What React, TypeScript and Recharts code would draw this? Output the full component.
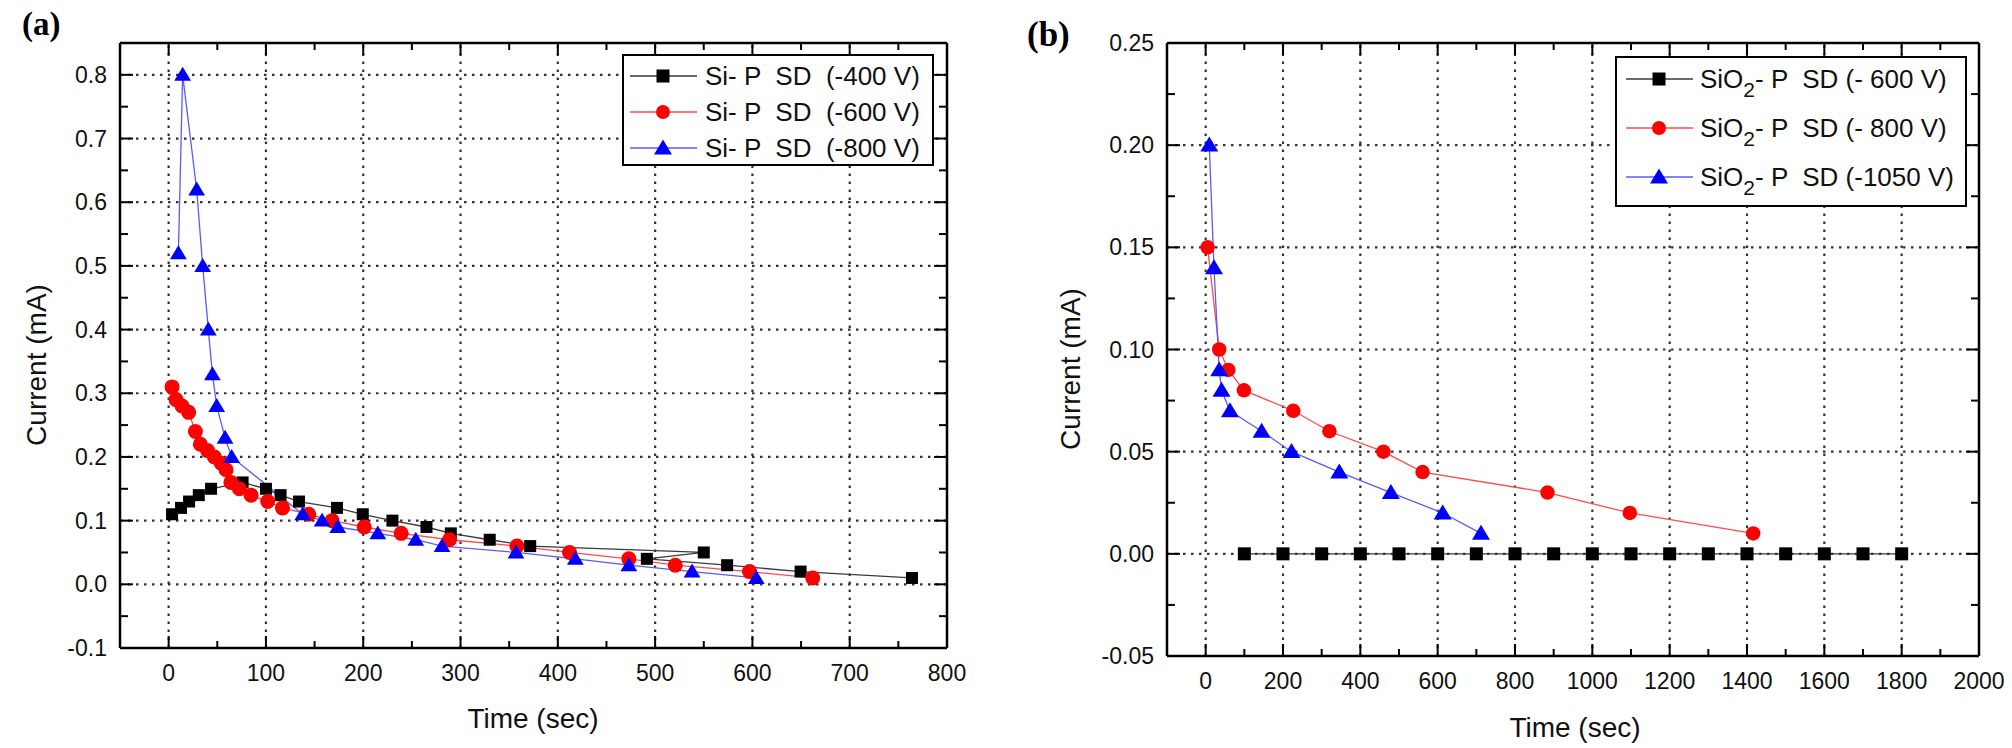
import React from 'react';
import { LineChart, Line, XAxis, YAxis, ReferenceLine } from 'recharts';

// ---------- Panel (a) data ----------
const aBlackT = [3.5, 12.7, 21, 31, 43.6, 76, 100, 115, 134, 173, 199.5, 230, 265, 290, 330, 371.6, 550, 491.5, 574, 649.5, 764];
const aBlackI = [0.11, 0.12, 0.13, 0.14, 0.15, 0.16, 0.15, 0.14, 0.13, 0.12, 0.11, 0.10, 0.09, 0.08, 0.07, 0.06, 0.05, 0.04, 0.03, 0.02, 0.01];
const aRedT = [3.5, 7.6, 13.8, 20.6, 27.5, 32.6, 40, 47, 54, 59, 64, 72.7, 84.7, 101.8, 117, 144, 168, 201, 239, 288.6, 358, 412, 473, 520.7, 597, 662];
const aRedI = [0.31, 0.29, 0.28, 0.27, 0.24, 0.22, 0.21, 0.20, 0.19, 0.18, 0.16, 0.15, 0.14, 0.13, 0.12, 0.11, 0.10, 0.09, 0.08, 0.07, 0.06, 0.05, 0.04, 0.03, 0.02, 0.01];
const aBlueT = [10, 14.4, 28.8, 35, 40.8, 45, 49.4, 58, 64.8, 137.8, 157.7, 173.8, 215, 254, 281, 357, 418, 473, 538, 604];
const aBlueI = [0.52, 0.80, 0.62, 0.50, 0.40, 0.33, 0.28, 0.23, 0.20, 0.11, 0.10, 0.09, 0.08, 0.07, 0.06, 0.05, 0.04, 0.03, 0.02, 0.01];
const aNames = ['Si- P  SD  (-400 V)', 'Si- P  SD  (-600 V)', 'Si- P  SD  (-800 V)'];
const aXMajor = [0, 100, 200, 300, 400, 500, 600, 700, 800];
const aXMinor = [50, 150, 250, 350, 450, 550, 650, 750];
const aYMajor = [-0.1, 0, 0.1, 0.2, 0.3, 0.4, 0.5, 0.6, 0.7, 0.8];
const aYMinor = [-0.05, 0.05, 0.15, 0.25, 0.35, 0.45, 0.55, 0.65, 0.75];
const aXGrid = [0, 100, 200, 300, 400, 500, 600, 700];
const aYGrid = [0, 0.1, 0.2, 0.3, 0.4, 0.5, 0.6, 0.7, 0.8];
const aXDomain = [-50, 800];
const aYDomain = [-0.1, 0.85];

// ---------- Panel (b) data ----------
const bBlackT = [100, 200, 300, 400, 500, 600, 700, 800, 900, 1000, 1100, 1200, 1300, 1400, 1500, 1600, 1700, 1800];
const bBlackI = [0, 0, 0, 0, 0, 0, 0, 0, 0, 0, 0, 0, 0, 0, 0, 0, 0, 0];
const bRedT = [5, 35, 58.5, 99, 226.6, 320, 459.6, 561, 884, 1097, 1416];
const bRedI = [0.15, 0.10, 0.09, 0.08, 0.07, 0.06, 0.05, 0.04, 0.03, 0.02, 0.01];
const bBlueT = [9.4, 21.5, 35, 41, 62.8, 144.7, 222, 345.6, 479, 613, 712];
const bBlueI = [0.20, 0.14, 0.09, 0.08, 0.07, 0.06, 0.05, 0.04, 0.03, 0.02, 0.01];
const bNames = [['SiO', '2', '- P  SD (- 600 V)'], ['SiO', '2', '- P  SD (- 800 V)'], ['SiO', '2', '- P  SD (-1050 V)']];
const bXMajor = [0, 200, 400, 600, 800, 1000, 1200, 1400, 1600, 1800, 2000];
const bXMinor = [100, 300, 500, 700, 900, 1100, 1300, 1500, 1700, 1900];
const bYMajor = [-0.05, 0, 0.05, 0.1, 0.15, 0.2, 0.25];
const bYMinor = [-0.025, 0.025, 0.075, 0.125, 0.175, 0.225];
const bXGrid = [0, 200, 400, 600, 800, 1000, 1200, 1400, 1600, 1800];
const bYGrid = [0, 0.05, 0.1, 0.15, 0.2];
const bXDomain = [-100, 2000];
const bYDomain = [-0.05, 0.25];

const zip = (t: number[], v: number[]) => t.map((x, i) => ({ t: x, i: v[i] }));

const FONT = '"Liberation Sans", Arial, sans-serif';
const COLORS = { black: '#000000', red: '#ff0000', blue: '#0000ff' };
const LINECOLORS = { black: '#3a3a3a', red: '#ff4a4a', blue: '#5a5aff' };

type Shape = 'square' | 'circle' | 'triangle';

function Marker({ shape, cx, cy, color, s }: { shape: Shape; cx: number; cy: number; color: string; s: number }) {
  if (shape === 'square') return <rect x={cx - s / 2} y={cy - s / 2} width={s} height={s} fill={color} />;
  if (shape === 'circle') return <circle cx={cx} cy={cy} r={s / 2 + 0.5} fill={color} />;
  const h = s * 0.95;
  return (
    <polygon
      points={`${cx},${cy - h * 0.6} ${cx - s * 0.6},${cy + h * 0.45} ${cx + s * 0.6},${cy + h * 0.45}`}
      fill={color}
    />
  );
}

const makeDot = (shape: Shape, color: string, s: number) => (props: any) => {
  const { cx, cy, index } = props;
  if (cx == null || cy == null) return <g key={`d${index}`} />;
  return (
    <g key={`d${index}`}>
      <Marker shape={shape} cx={cx} cy={cy} color={color} s={s} />
    </g>
  );
};

const isIn = (arr: number[], v: number) => arr.some((m) => Math.abs(m - v) < 1e-9);

type Layout = {
  left: number; width: number; height: number;
  plotL: number; plotR: number; plotT: number; plotB: number;
};

const makeXTick = (lay: Layout, major: number[]) => (props: any) => {
  const { payload } = props;
  const x = payload.coordinate != null ? payload.coordinate : props.x;
  const v = payload.value;
  const mj = isIn(major, v);
  const len = mj ? 12 : 7;
  const pb = lay.plotB;
  const pt = lay.plotT;
  return (
    <g>
      <line x1={x} x2={x} y1={pb} y2={pb - len} stroke="#000" strokeWidth={2} />
      <line x1={x} x2={x} y1={pt} y2={pt + len} stroke="#000" strokeWidth={2} />
      {mj && (
        <text x={x} y={pb + 25} dy="0.35em" textAnchor="middle" fontSize={23} fontFamily={FONT} fill="#111">
          {String(v)}
        </text>
      )}
    </g>
  );
};

const makeYTick = (lay: Layout, major: number[], dec: number) => (props: any) => {
  const { payload } = props;
  const y = payload.coordinate != null ? payload.coordinate : props.y;
  const v = payload.value;
  const mj = isIn(major, v);
  const len = mj ? 13 : 8;
  const pl = lay.plotL;
  const pr = lay.plotR;
  return (
    <g>
      <line x1={pl} x2={pl + len} y1={y} y2={y} stroke="#000" strokeWidth={2} />
      <line x1={pr} x2={pr - len} y1={y} y2={y} stroke="#000" strokeWidth={2} />
      {mj && (
        <text x={pl - 13} y={y} dy="0.35em" textAnchor="end" fontSize={23} fontFamily={FONT} fill="#111">
          {(Math.abs(v) < 1e-12 ? 0 : v).toFixed(dec)}
        </text>
      )}
    </g>
  );
};

function Panel(props: {
  lay: Layout;
  xDomain: number[]; yDomain: number[];
  xMajor: number[]; xMinor: number[]; yMajor: number[]; yMinor: number[];
  xGrid: number[]; yGrid: number[]; dec: number;
  series: { data: { t: number; i: number }[]; shape: Shape; color: string; line: string; s: number }[];
}) {
  const { lay } = props;
  const YW = 60;
  const XH = 40;
  const margin = {
    top: lay.plotT,
    left: lay.plotL - YW,
    right: lay.width - lay.plotR,
    bottom: lay.height - lay.plotB - XH,
  };
  const xt = [...props.xMajor, ...props.xMinor].sort((a, b) => a - b);
  const yt = [...props.yMajor, ...props.yMinor].sort((a, b) => a - b);
  return (
    <div style={{ position: 'absolute', left: lay.left, top: 0 }}>
      <LineChart width={lay.width} height={lay.height} margin={margin}>
        <XAxis
          dataKey="t"
          type="number"
          domain={props.xDomain}
          allowDataOverflow
          ticks={xt}
          interval={0}
          height={XH}
          tickLine={false}
          axisLine={{ stroke: '#000', strokeWidth: 2.5 }}
          tick={makeXTick(lay, props.xMajor)}
        />
        <YAxis
          dataKey="i"
          type="number"
          domain={props.yDomain}
          allowDataOverflow
          ticks={yt}
          interval={0}
          width={YW}
          tickLine={false}
          axisLine={{ stroke: '#000', strokeWidth: 2.5 }}
          tick={makeYTick(lay, props.yMajor, props.dec)}
        />
        {props.xGrid.map((g) => (
          <ReferenceLine key={`gx${g}`} x={g} stroke="#333" strokeWidth={2.2} strokeDasharray="2.5 5.5" />
        ))}
        {props.yGrid.map((g) => (
          <ReferenceLine key={`gy${g}`} y={g} stroke="#333" strokeWidth={2.2} strokeDasharray="2.5 5.5" />
        ))}
        <ReferenceLine y={props.yDomain[1]} stroke="#000" strokeWidth={2.5} />
        <ReferenceLine x={props.xDomain[1]} stroke="#000" strokeWidth={2.5} />
        {props.series.map((s, k) => (
          <Line
            key={`s${k}`}
            data={s.data}
            dataKey="i"
            type="linear"
            stroke={s.line}
            strokeWidth={1.3}
            dot={makeDot(s.shape, s.color, s.s)}
            activeDot={false}
            isAnimationActive={false}
          />
        ))}
      </LineChart>
    </div>
  );
}

const layA: Layout = { left: 0, width: 1000, height: 748, plotL: 120, plotR: 947, plotT: 43, plotB: 648 };
const layB: Layout = { left: 1000, width: 1012, height: 748, plotL: 167, plotR: 979, plotT: 43, plotB: 656 };

function LegendRow({ x, y, shape, color, line, s, children }: any) {
  return (
    <g>
      <line x1={x} x2={x + 67} y1={y} y2={y} stroke={line} strokeWidth={1.5} />
      <Marker shape={shape} cx={x + 33} cy={y} color={color} s={s} />
      {children}
    </g>
  );
}

export default function App() {
  const seriesA = [
    { data: zip(aBlackT, aBlackI), shape: 'square' as Shape, color: COLORS.black, line: LINECOLORS.black, s: 12 },
    { data: zip(aRedT, aRedI), shape: 'circle' as Shape, color: COLORS.red, line: LINECOLORS.red, s: 14 },
    { data: zip(aBlueT, aBlueI), shape: 'triangle' as Shape, color: COLORS.blue, line: LINECOLORS.blue, s: 14 },
  ];
  const seriesB = [
    { data: zip(bBlackT, bBlackI), shape: 'square' as Shape, color: COLORS.black, line: LINECOLORS.black, s: 13 },
    { data: zip(bRedT, bRedI), shape: 'circle' as Shape, color: COLORS.red, line: LINECOLORS.red, s: 13.5 },
    { data: zip(bBlueT, bBlueI), shape: 'triangle' as Shape, color: COLORS.blue, line: LINECOLORS.blue, s: 15 },
  ];
  const shapes: Shape[] = ['square', 'circle', 'triangle'];
  const cols = [COLORS.black, COLORS.red, COLORS.blue];
  const lcols = [LINECOLORS.black, LINECOLORS.red, LINECOLORS.blue];
  return (
    <div style={{ position: 'absolute', left: 0, top: 0, width: 2012, height: 748, background: '#fff', overflow: 'hidden' }}>
      <Panel
        lay={layA}
        xDomain={aXDomain} yDomain={aYDomain}
        xMajor={aXMajor} xMinor={aXMinor} yMajor={aYMajor} yMinor={aYMinor}
        xGrid={aXGrid} yGrid={aYGrid} dec={1}
        series={seriesA}
      />
      <Panel
        lay={layB}
        xDomain={bXDomain} yDomain={bYDomain}
        xMajor={bXMajor} xMinor={bXMinor} yMajor={bYMajor} yMinor={bYMinor}
        xGrid={bXGrid} yGrid={bYGrid} dec={2}
        series={seriesB}
      />
      <svg width={2012} height={748} style={{ position: 'absolute', left: 0, top: 0, pointerEvents: 'none' }}>
        {/* panel labels */}
        <text x={22} y={35} fontFamily='"Liberation Serif", "Times New Roman", serif' fontWeight="bold" fontSize={33}>(a)</text>
        <text x={1027} y={46} fontFamily='"Liberation Serif", "Times New Roman", serif' fontWeight="bold" fontSize={35}>(b)</text>
        {/* axis titles */}
        <text x={533} y={718} dy="0.35em" textAnchor="middle" fontFamily={FONT} fontSize={28} fill="#111">Time (sec)</text>
        <text x={1575} y={727} dy="0.35em" textAnchor="middle" fontFamily={FONT} fontSize={28} fill="#111">Time (sec)</text>
        <text transform="translate(36,365) rotate(-90)" dy="0.35em" textAnchor="middle" fontFamily={FONT} fontSize={28} fill="#111">Current (mA)</text>
        <text transform="translate(1070,369) rotate(-90)" dy="0.35em" textAnchor="middle" fontFamily={FONT} fontSize={28} fill="#111">Current (mA)</text>
        {/* legend a */}
        <rect x={623} y={55} width={310} height={110} fill="#fff" stroke="#000" strokeWidth={2} />
        {aNames.map((n, k) => (
          <LegendRow key={`la${k}`} x={630} y={76 + k * 36} shape={shapes[k]} color={cols[k]} line={lcols[k]} s={k === 2 ? 15 : 13}>
            <text x={705} y={76 + k * 36} dy="0.35em" fontFamily={FONT} fontSize={26} fill="#111" style={{ whiteSpace: 'pre' }}>{n}</text>
          </LegendRow>
        ))}
        {/* legend b */}
        <rect x={1616} y={57} width={350} height={149} fill="#fff" stroke="#000" strokeWidth={2} />
        {bNames.map((n, k) => (
          <LegendRow key={`lb${k}`} x={1626} y={79 + k * 49} shape={shapes[k]} color={cols[k]} line={lcols[k]} s={k === 2 ? 15 : 13}>
            <text x={1700} y={79 + k * 49} dy="0.35em" fontFamily={FONT} fontSize={26} fill="#111" style={{ whiteSpace: 'pre' }}>
              {n[0]}
              <tspan dy={9} fontSize={21}>{n[1]}</tspan>
              <tspan dy={-9}>{n[2]}</tspan>
            </text>
          </LegendRow>
        ))}
      </svg>
    </div>
  );
}
